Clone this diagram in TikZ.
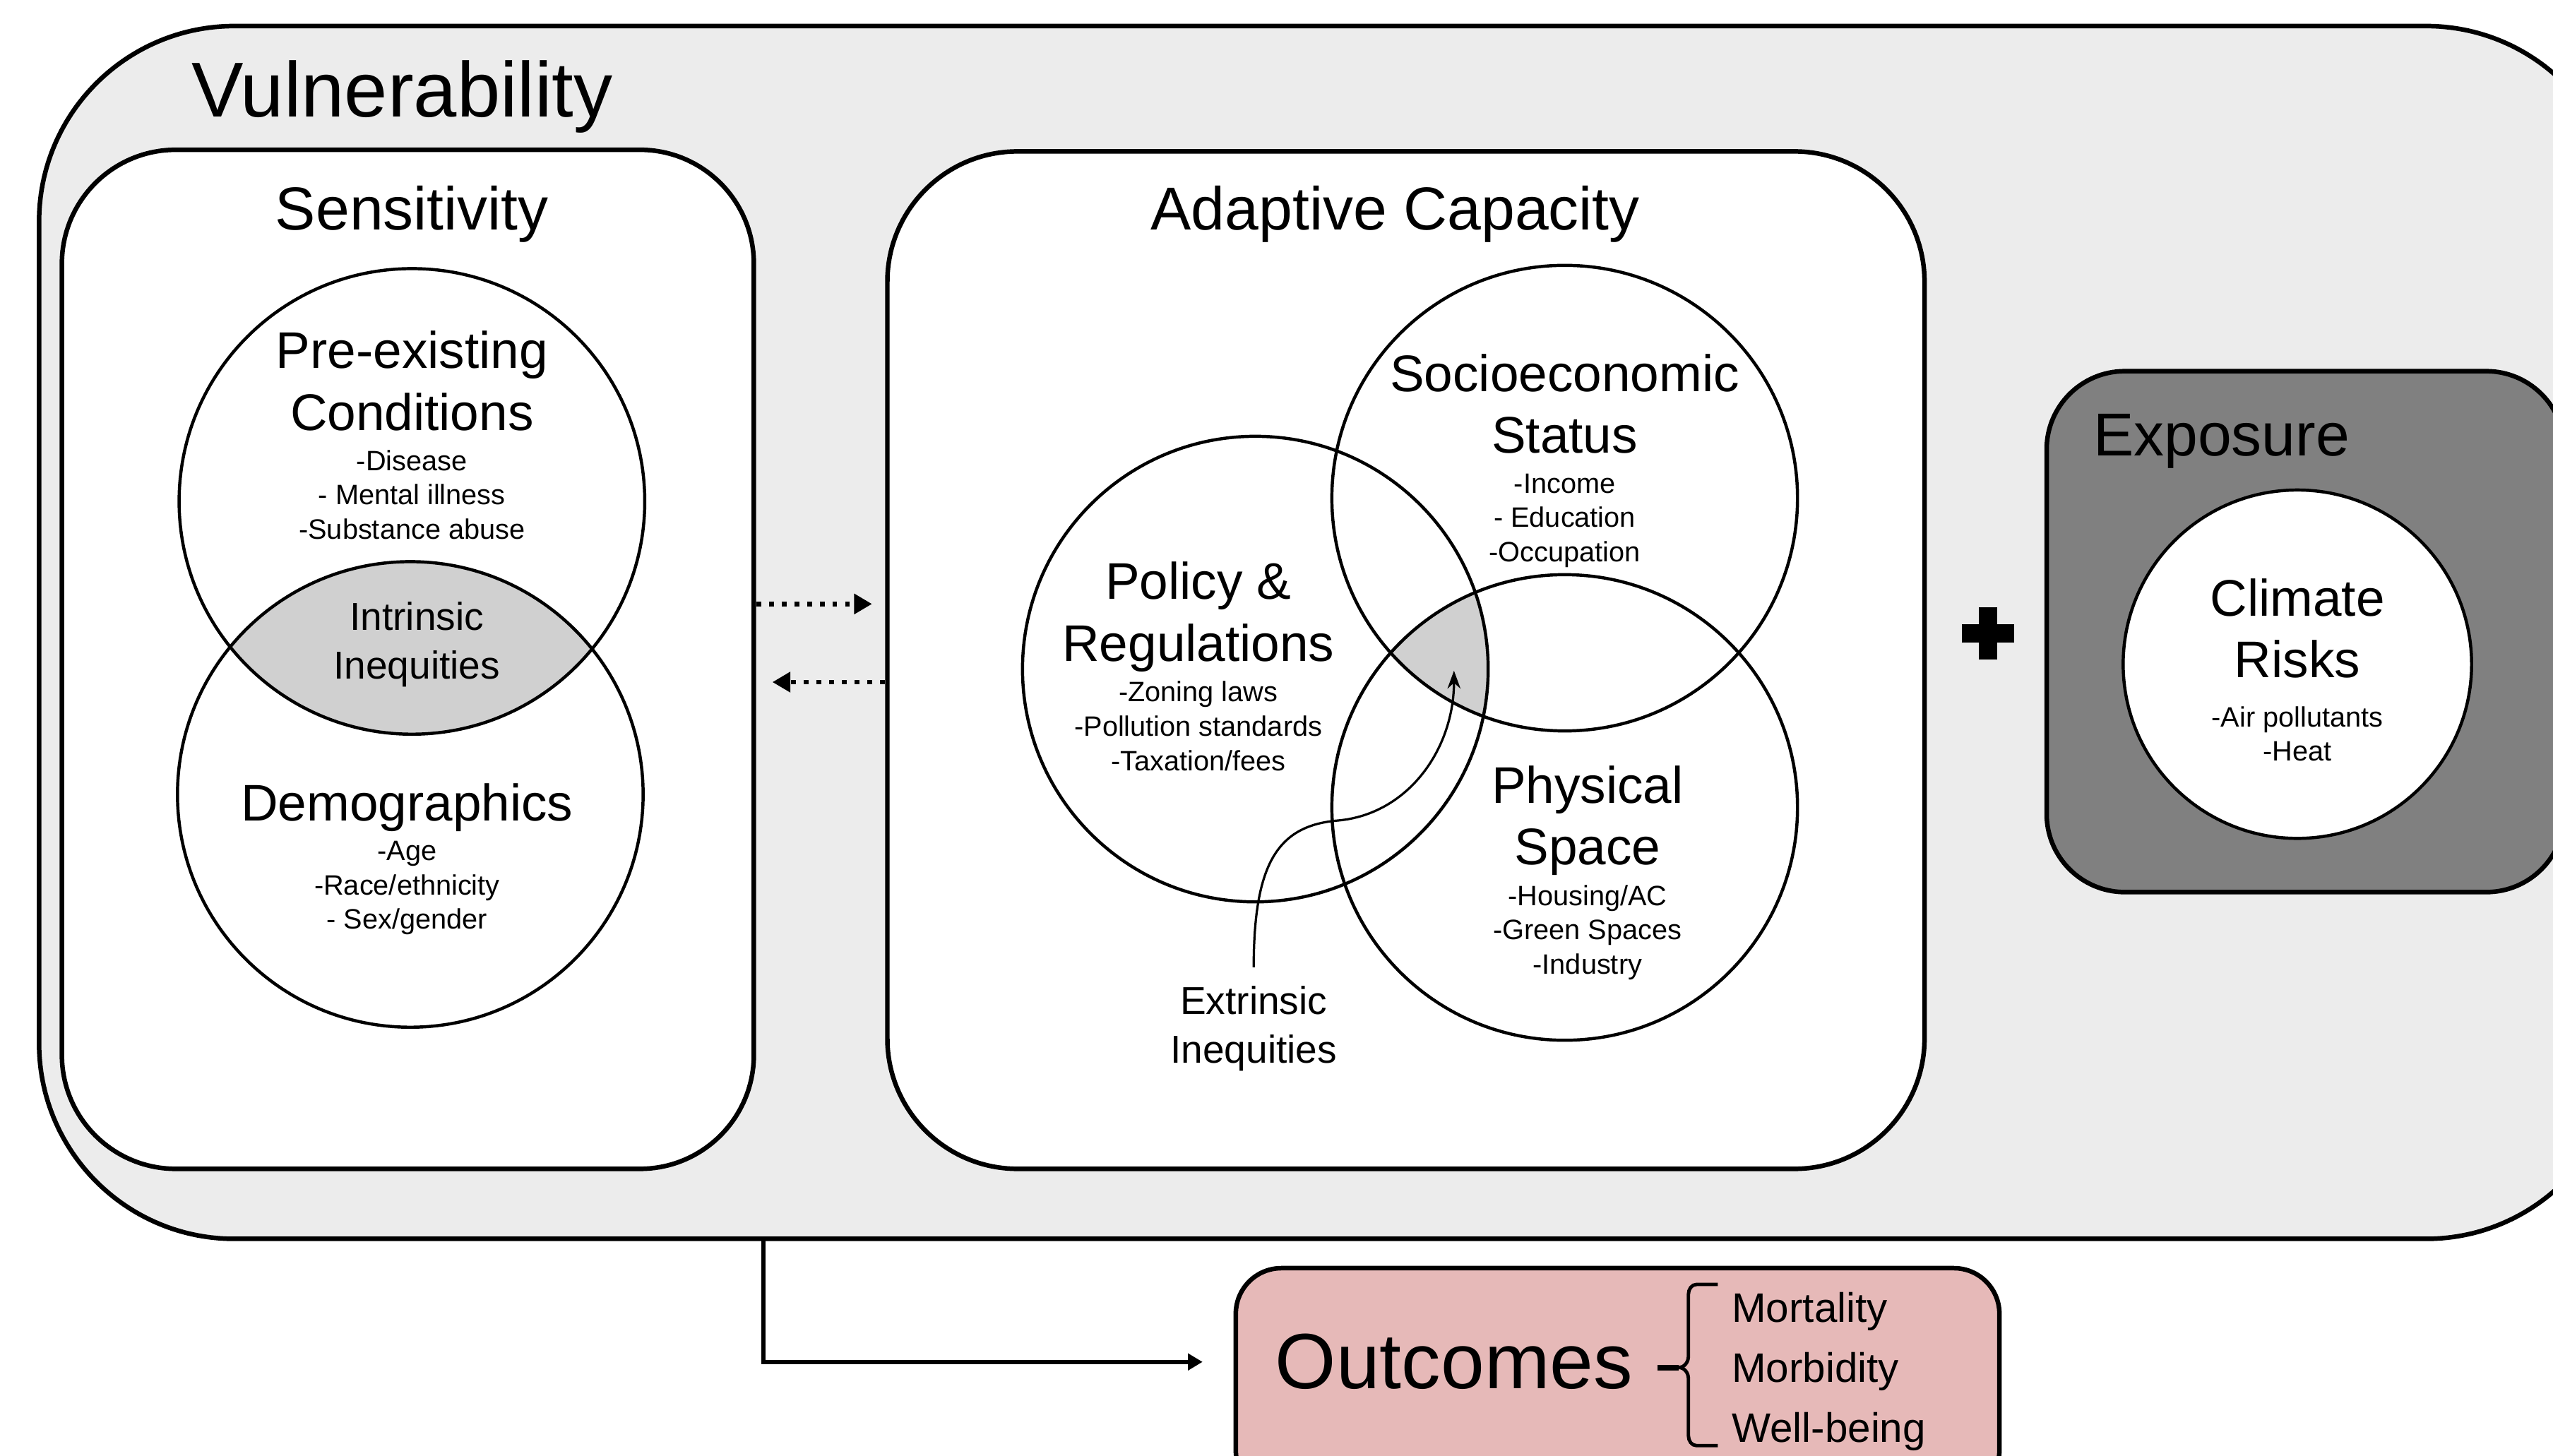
\documentclass[tikz,border=0pt]{standalone}
\usepackage{fontspec}
\setmainfont{Liberation Sans}
\usepackage{tikz}
\usetikzlibrary{arrows.meta,calc,
                shapes,positioning}

\definecolor{VulnGray}{HTML}{ECECEC}
\definecolor{ExpoGray}{HTML}{808080}
\definecolor{LensGray}{HTML}{D0D0D0}
\definecolor{OutcomePink}{HTML}{E6B9B8}

\begin{document}
\begin{tikzpicture}[x=0.1mm,y=-0.1mm]
  \tikzset{PanelNode/.style = {shape = rectangle, draw = black, line width = 0.8pt, inner sep = 0pt}};
  \tikzset{VennNode/.style = {shape = circle, draw = black, line width = 0.55pt, minimum size = 28.6mm, inner sep = 0pt}};
  \tikzset{HeadText/.style = {inner sep = 0pt, font = \fontsize{10.6}{12}\selectfont}};
  \tikzset{TitleText/.style = {inner sep = 0pt, align = center, font = \fontsize{9}{10.8}\selectfont}};
  \tikzset{ListText/.style = {inner sep = 0pt, align = center, font = \fontsize{4.9}{6}\selectfont}};
  \tikzset{MidText/.style = {inner sep = 0pt, align = center, font = \fontsize{6.8}{8.5}\selectfont}};
  \tikzset{DotEdge/.style = {line width = 0.85pt, dash pattern = on 0.3mm off 0.48mm,
      -{Triangle[length=1.1mm, width=1.2mm]}}};
  \tikzset{EdgeStyle/.style = {line width = 0.75pt, -{Triangle[length=0.9mm, width=1mm]}}};

  \useasboundingbox (0,0) rectangle (1568,894);
  \clip (0,0) rectangle (1568,894);

  % panels
  \node[PanelNode, fill = VulnGray, rounded corners = 12mm, minimum width = 158.6mm, minimum height = 74.5mm] (vulnerability) at (817,388.5) {};
  \node[PanelNode, fill = white, rounded corners = 7mm, minimum width = 42.5mm, minimum height = 62.6mm] (sensitivity) at (250.5,405) {};
  \node[PanelNode, fill = white, rounded corners = 8mm, minimum width = 63.7mm, minimum height = 62.5mm] (adaptive) at (863.5,405.5) {};
  \node[PanelNode, fill = ExpoGray, rounded corners = 4.8mm, minimum width = 31.8mm, minimum height = 32mm] (exposure) at (1416,388) {};
  \node[PanelNode, fill = OutcomePink, rounded corners = 2.8mm, minimum width = 46.9mm, minimum height = 14mm] (outcomes) at (993.5,849) {};

  \coordinate (pre c) at (253,308);
  \coordinate (demo c) at (252,488);
  \coordinate (socio c) at (961,306);
  \coordinate (policy c) at (771,411);
  \coordinate (physical c) at (961,496);

  % overlaps
  \begin{scope}
    \clip (pre c) circle[radius=14.3mm];
    \fill[LensGray] (demo c) circle[radius=14.3mm];
  \end{scope}
  \begin{scope}
    \clip (socio c) circle[radius=14.3mm];
    \clip (policy c) circle[radius=14.3mm];
    \fill[LensGray] (physical c) circle[radius=14.3mm];
  \end{scope}

  % circles
  \node[VennNode] (preexisting) at (pre c) {};
  \node[VennNode] (demographics) at (demo c) {};
  \node[VennNode] (socioeconomic) at (socio c) {};
  \node[VennNode] (policy) at (policy c) {};
  \node[VennNode] (physical) at (physical c) {};
  \node[VennNode, fill = white, minimum size = 21.4mm] (climate) at (1411,408) {};

  % headings
  \node[HeadText, font = \fontsize{13.6}{16}\selectfont, anchor = base west] (vuln title) at (117,72) {Vulnerability};
  \node[HeadText, anchor = base] (sens title) at (253,141) {Sensitivity};
  \node[HeadText, anchor = base] (adapt title) at (857,141) {Adaptive Capacity};
  \node[HeadText, anchor = base west] (expo title) at (1285,280) {Exposure};
  \node[HeadText, font = \fontsize{13.7}{16}\selectfont, anchor = base] (outcomes title) at (893,853) {Outcomes};

  % circle texts
  \node[TitleText] (pre title) at (253,234) {Pre-existing\\Conditions};
  \node[ListText, below = 1.05mm of pre title] (pre list) {-Disease\\- Mental illness\\-Substance abuse};
  \node[MidText] (intrinsic) at (256,396) {Intrinsic\\Inequities};
  \node[TitleText] (demo title) at (250,496) {Demographics};
  \node[ListText, below = 0.45mm of demo title] (demo list) {-Age\\-Race/ethnicity\\- Sex/gender};

  \node[TitleText] (socio title) at (961,248) {Socioeconomic\\Status};
  \node[ListText, below = 1.1mm of socio title] (socio list) {-Income\\- Education\\-Occupation};
  \node[TitleText] (policy title) at (736,379) {Policy \&\\Regulations};
  \node[ListText, below = 0.45mm of policy title] (policy list) {-Zoning laws\\-Pollution standards\\-Taxation/fees};
  \node[TitleText] (physical title) at (975,504) {Physical\\Space};
  \node[ListText, below = 0.45mm of physical title] (physical list) {-Housing/AC\\-Green Spaces\\-Industry};
  \node[MidText] (extrinsic) at (770,632) {Extrinsic\\Inequities};

  \node[TitleText] (climate title) at (1411,386) {Climate\\Risks};
  \node[ListText, below = 1.6mm of climate title] (climate list) {-Air pollutants\\-Heat};

  \node[inner sep = 0pt, align = left, anchor = west, font = \fontsize{7.2}{10.5}\selectfont] (outcome list) at (1063,842.5) {Mortality\\Morbidity\\Well-being};

  % arrows
  \coordinate (sens top) at ($(sensitivity.east)+(0,-34)$);
  \coordinate (sens low) at ($(sensitivity.east)+(0,14)$);
  \draw[DotEdge, shorten >= 0.8mm] (sens top) -- (sens top -| adaptive.west);
  \draw[DotEdge, shorten >= 1mm] (sens low -| adaptive.west) -- (sens low);

  \coordinate (overlap) at (893,412);
  \draw[line width = 0.4pt, shorten <= 1.1mm, -{Stealth[length=1.1mm, width=0.8mm]}] (extrinsic.north)
    .. controls (770,530) and (785,507) .. (822,504)
    .. controls (865,500) and (893,460) .. (overlap);

  \coordinate (drop) at (469,761);
  \coordinate (outcomes in) at ($(outcomes.north west)+(0,59)$);
  \draw[EdgeStyle, shorten >= 1.9mm] (drop) |- (outcomes in);

  % plus sign
  \fill (1205,383.5) rectangle (1237,394.5);
  \fill (1215.5,373) rectangle (1226.5,405);

  % brace
  \draw[line width = 1pt] (1018,840) -- (1031,840);
  \draw[line width = 0.6pt] (1055,789) -- (1042,789) to[out=180,in=90] (1037,795) -- (1037,833)
    to[out=-90,in=0] (1031,840) to[out=0,in=90] (1037,847) -- (1037,882)
    to[out=-90,in=180] (1042,888) -- (1055,888);
\end{tikzpicture}
\end{document}
